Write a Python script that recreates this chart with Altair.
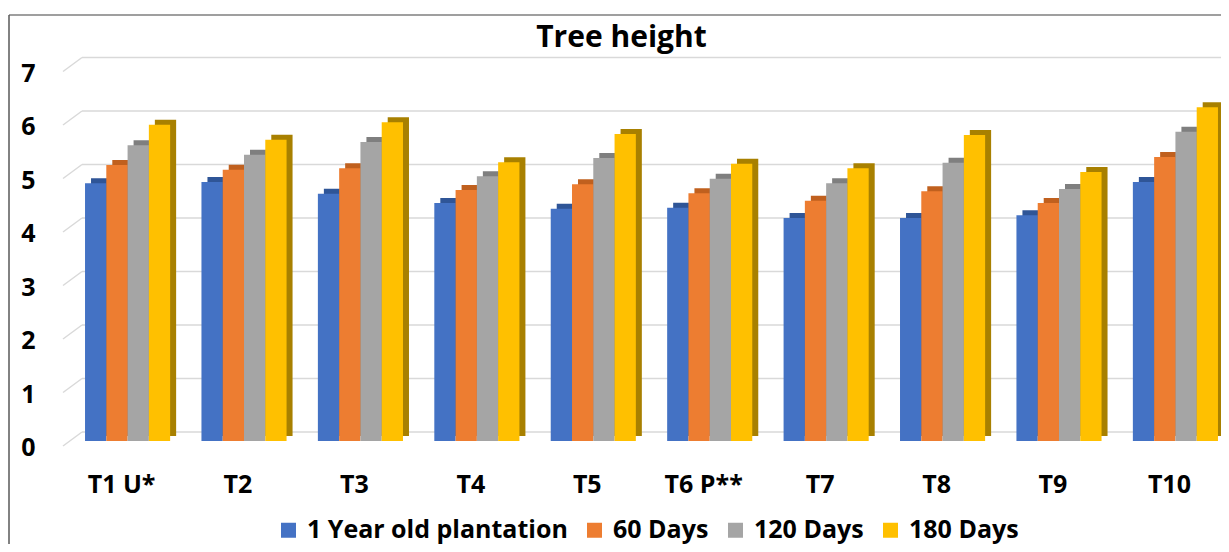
import altair as alt
import pandas as pd

categories = ["T1 U*", "T2", "T3", "T4", "T5", "T6 P**", "T7", "T8", "T9", "T10"]
series = ["1 Year old plantation", "60 Days", "120 Days", "180 Days"]
year1 = [4.82, 4.84, 4.62, 4.45, 4.34, 4.36, 4.17, 4.17, 4.22, 4.84]
days60 = [5.16, 5.07, 5.10, 4.69, 4.80, 4.63, 4.49, 4.67, 4.45, 5.31]
days120 = [5.53, 5.35, 5.59, 4.95, 5.29, 4.90, 4.82, 5.20, 4.71, 5.78]
days180 = [5.91, 5.63, 5.96, 5.21, 5.74, 5.18, 5.10, 5.72, 5.03, 6.24]
y_ticks = [0, 1, 2, 3, 4, 5, 6, 7]
chart_title = ["Tree height"]

front_colors = ["#4472C4", "#ED7D31", "#A5A5A5", "#FFC000"]
dark_colors = ["#2F5597", "#C0601E", "#7F7F7F", "#A88000"]

rows = []
for s, vals in zip(series, [year1, days60, days120, days180]):
    for c, v in zip(categories, vals):
        rows.append({"cat": c, "series": s, "value": v})
df = pd.DataFrame(rows)
grid_df = pd.DataFrame({"v": y_ticks})
one = pd.DataFrame({"a": [0]})
title_df = pd.DataFrame({"t": chart_title})

W = 1139
H = 374.5
FONT = "Open Sans"
STEP = W / (10 - 0.269 + 2 * 0.026)
BAND = STEP * (1 - 0.269)
DEPTH_X = 6

xscale = alt.Scale(domain=categories, paddingInner=0.269, paddingOuter=0.026)
yscale = alt.Scale(domain=[0, 7], nice=False, zero=True)

x_axis = alt.Axis(title=None, labelAngle=0, ticks=False, domain=False, grid=False,
                  labelPadding=31, labelOffset=-6, labelFontSize=25, labelFont=FONT,
                  labelFontWeight="bold", labelColor="#000000")
y_axis = alt.Axis(title=None, values=y_ticks, ticks=False, domain=False, grid=False,
                  labelPadding=47, labelOffset=6.5, labelFontSize=25, labelFont=FONT,
                  labelFontWeight="bold", labelColor="#000000")

frame_top = alt.Chart(one).mark_rule(color="#7F7F7F", strokeWidth=1.5).encode(
    x=alt.value(-73), x2=alt.value(W + 20), y=alt.value(-51.5))
frame_left = alt.Chart(one).mark_rule(color="#595959", strokeWidth=1.5).encode(
    x=alt.value(-73), y=alt.value(-51.5), y2=alt.value(H + 200))

title_mark = alt.Chart(title_df).mark_text(
    font=FONT, fontSize=30, fontWeight="bold", color="#000000",
    align="center", baseline="alphabetic").encode(
    text="t:N", x=alt.value(W / 2 - 30), y=alt.value(-19.5))

grid_back = alt.Chart(grid_df).mark_rule(color="#D9D9D9", strokeWidth=1.5, yOffset=-9).encode(
    x=alt.value(0), x2=alt.value(W + 20),
    y=alt.Y("v:Q", scale=yscale, axis=y_axis))
grid_slant = alt.Chart(grid_df).mark_rule(color="#D9D9D9", strokeWidth=1.5,
                                          yOffset=5, y2Offset=-9).encode(
    x=alt.value(-19), x2=alt.value(0),
    y=alt.Y("v:Q", scale=yscale, axis=y_axis), y2=alt.Y2("v"))

back_bars = alt.Chart(df).mark_bar(yOffset=-5, y2Offset=-5).encode(
    x=alt.X("cat:N", sort=categories, scale=xscale, axis=x_axis),
    xOffset=alt.XOffset("series:N", sort=series,
                        scale=alt.Scale(domain=series, range=[DEPTH_X, BAND + DEPTH_X],
                                        paddingInner=0, paddingOuter=0)),
    y=alt.Y("value:Q", scale=yscale, axis=y_axis),
    color=alt.Color("series:N", sort=series,
                    scale=alt.Scale(domain=series, range=dark_colors), legend=None),
)

front_bars = alt.Chart(df).mark_bar().encode(
    x=alt.X("cat:N", sort=categories, scale=xscale, axis=x_axis),
    xOffset=alt.XOffset("series:N", sort=series,
                        scale=alt.Scale(domain=series, range=[0, BAND],
                                        paddingInner=0, paddingOuter=0)),
    y=alt.Y("value:Q", scale=yscale, axis=y_axis),
    color=alt.Color("series:N", sort=series,
                    scale=alt.Scale(domain=series, range=front_colors),
                    legend=alt.Legend(title=None, orient="none", legendX=194, legendY=451,
                                      direction="horizontal", columns=4,
                                      symbolType="square", symbolSize=225,
                                      symbolStrokeWidth=0, labelFontSize=25,
                                      labelFont=FONT, labelFontWeight="bold",
                                      labelColor="#000000", columnPadding=14,
                                      labelOffset=6, labelLimit=500, padding=0)),
)

chart = alt.layer(frame_top, frame_left, title_mark, grid_back, grid_slant,
                  back_bars, front_bars).resolve_scale(
    color="independent", xOffset="independent"
).properties(
    width=W, height=H,
    padding={"left": 74, "top": 58.5, "right": 0, "bottom": 103},
    autosize=alt.AutoSizeParams(type="none"),
    view=alt.ViewBackground(stroke="transparent", strokeWidth=0),
).configure_view(stroke="transparent", strokeWidth=0).configure(background="#FFFFFF")

chart.save("out.html", embed_options={"renderer": "svg", "actions": False})
